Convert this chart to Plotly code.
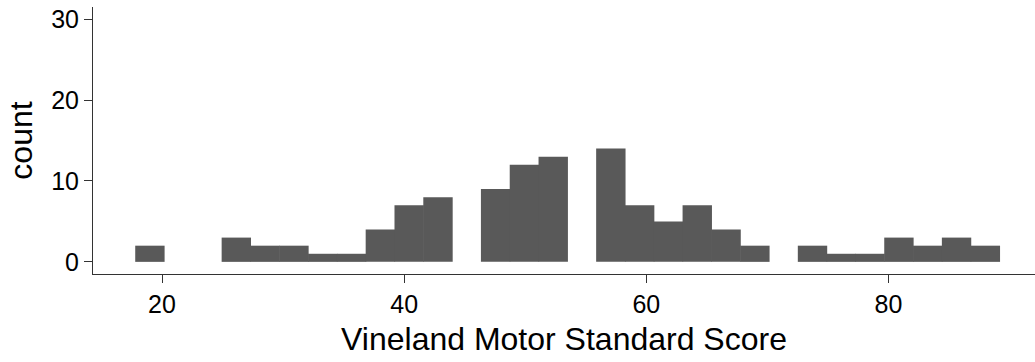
import numpy as np
import plotly.graph_objects as go

# Histogram (30 bins) of Vineland Motor Standard Score
score_min = 19
score_max = 88
counts = [2, 0, 0, 3, 2, 2, 1, 1, 4, 7, 8, 0, 9, 12, 13, 0,
          14, 7, 5, 7, 4, 2, 0, 2, 1, 1, 3, 2, 3, 2]
x_ticks = [20, 40, 60, 80]
y_ticks = [0, 10, 20, 30]

n_bins = len(counts)
binwidth = (score_max - score_min) / (n_bins - 1)
centers = score_min + binwidth * np.arange(n_bins)

bar_color = "#595959"
fig = go.Figure(go.Bar(
    x=centers, y=counts, width=binwidth * 1.02,
    marker=dict(color=bar_color, line=dict(width=0)),
    hoverinfo="x+y",
))

font_family = "Liberation Sans, Arial, sans-serif"
fig.update_layout(
    width=1035, height=362,
    margin=dict(l=93, r=0, t=7, b=88),
    paper_bgcolor="white", plot_bgcolor="white",
    showlegend=False,
    font=dict(family=font_family, color="black"),
    xaxis=dict(
        range=[14.3, 92.1], automargin=False,
        tickvals=x_ticks, ticktext=[str(v) for v in x_ticks],
        ticks="outside", ticklen=8, tickwidth=1, tickcolor="#333333",
        showline=True, linecolor="#333333", linewidth=1,
        showgrid=False, zeroline=False,
        tickfont=dict(size=25, color="black"),
        title=dict(text="Vineland Motor Standard Score",
                   font=dict(size=32, color="black"), standoff=10),
    ),
    yaxis=dict(
        range=[-1.5, 31.5], automargin=False,
        tickvals=y_ticks, ticktext=[str(v) for v in y_ticks],
        ticks="outside", ticklen=8, tickwidth=1, tickcolor="#333333",
        showline=True, linecolor="#333333", linewidth=1,
        showgrid=False, zeroline=False,
        tickfont=dict(size=25, color="black"),
        title=dict(text="count", font=dict(size=32, color="black"), standoff=8),
    ),
)

fig.write_html(
    "out.html",
    config={"displayModeBar": False},
    post_script="document.body.style.margin='0';document.body.style.padding='0';"
                "window.dispatchEvent(new Event('resize'));",
)
